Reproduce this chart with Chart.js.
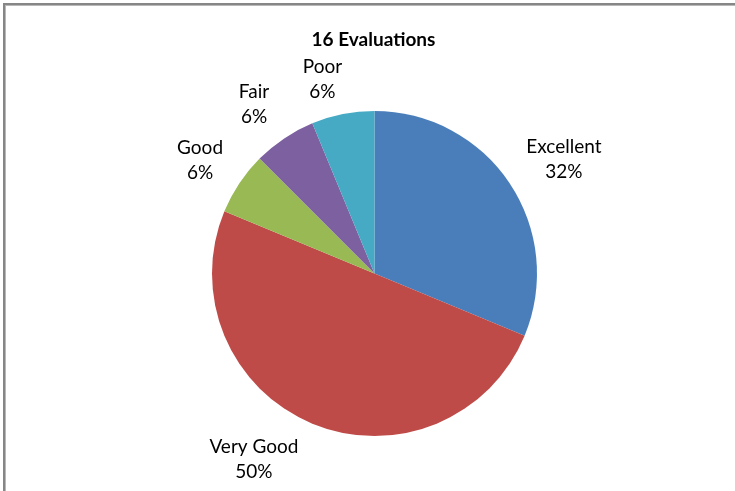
<!DOCTYPE html>
<html>
<head>
<meta charset="utf-8">
<script src="https://cdn.jsdelivr.net/npm/chart.js@4/dist/chart.umd.min.js"></script>
<style>
  html, body { margin: 0; padding: 0; background: #fff; }
  #wrap { position: relative; width: 735px; height: 491px; overflow: hidden; }
  #frame { position: absolute; left: 3px; top: 3px; width: 800px; height: 600px;
           border-top: 2px solid #868686; border-left: 2px solid #868686;
           box-shadow: inset 1px 1px 0 #b8b8b8; pointer-events: none; }
  canvas { position: absolute; left: 0; top: 0; }
</style>
</head>
<body>
<div id="wrap">
  <canvas id="c" width="735" height="491"></canvas>
  <div id="frame"></div>
</div>
<script>
const chartTitle = "16 Evaluations";
const categories = ["Excellent", "Very Good", "Good", "Fair", "Poor"];
const counts = [5, 8, 1, 1, 1];
const percentLabels = ["32%", "50%", "6%", "6%", "6%"];
const colors = ["#4A7EBB", "#BE4B48", "#98B954", "#7D60A0", "#46AAC5"];

// label placement (style): distance as multiple of radius, angle shift (deg) from slice middle
const labelDist = [1.36, 1.366, 1.28, 1.28, 1.237];
const labelShift = [2.75, 10.4, -0.75, -1.65, -3.75];

const FONT = "Lato, 'DejaVu Sans', sans-serif";
const FONT_SIZE = 19;
const LINE_H = 25;

const labelPlugin = {
  id: "outsideLabels",
  afterDraw(chart) {
    const ctx = chart.ctx;
    const meta = chart.getDatasetMeta(0);
    ctx.save();
    ctx.fillStyle = "#000";
    ctx.textAlign = "center";
    ctx.textBaseline = "middle";
    ctx.font = "bold " + FONT_SIZE + "px " + FONT;
    const c0 = meta.data[0];
    ctx.fillText(chartTitle, c0.x - 1, 40);
    ctx.font = FONT_SIZE + "px " + FONT;
    meta.data.forEach((arc, i) => {
      const p = arc.getProps(["x", "y", "startAngle", "endAngle", "outerRadius"], true);
      const a = (p.startAngle + p.endAngle) / 2 + labelShift[i] * Math.PI / 180;
      const d = p.outerRadius * labelDist[i];
      const bx = p.x + d * Math.cos(a);
      const by = p.y + d * Math.sin(a);
      ctx.fillText(categories[i], bx, by - LINE_H / 2);
      ctx.fillText(percentLabels[i], bx, by + LINE_H / 2);
    });
    ctx.restore();
  }
};

new Chart(document.getElementById("c"), {
  type: "pie",
  data: {
    labels: categories,
    datasets: [{
      data: counts,
      backgroundColor: colors,
      borderWidth: 0
    }]
  },
  options: {
    responsive: false,
    animation: false,
    layout: { padding: { left: 212, right: 198, top: 111, bottom: 55 } },
    plugins: {
      legend: { display: false },
      title: { display: false },
      tooltip: { enabled: false }
    }
  },
  plugins: [labelPlugin]
});
</script>
</body>
</html>
